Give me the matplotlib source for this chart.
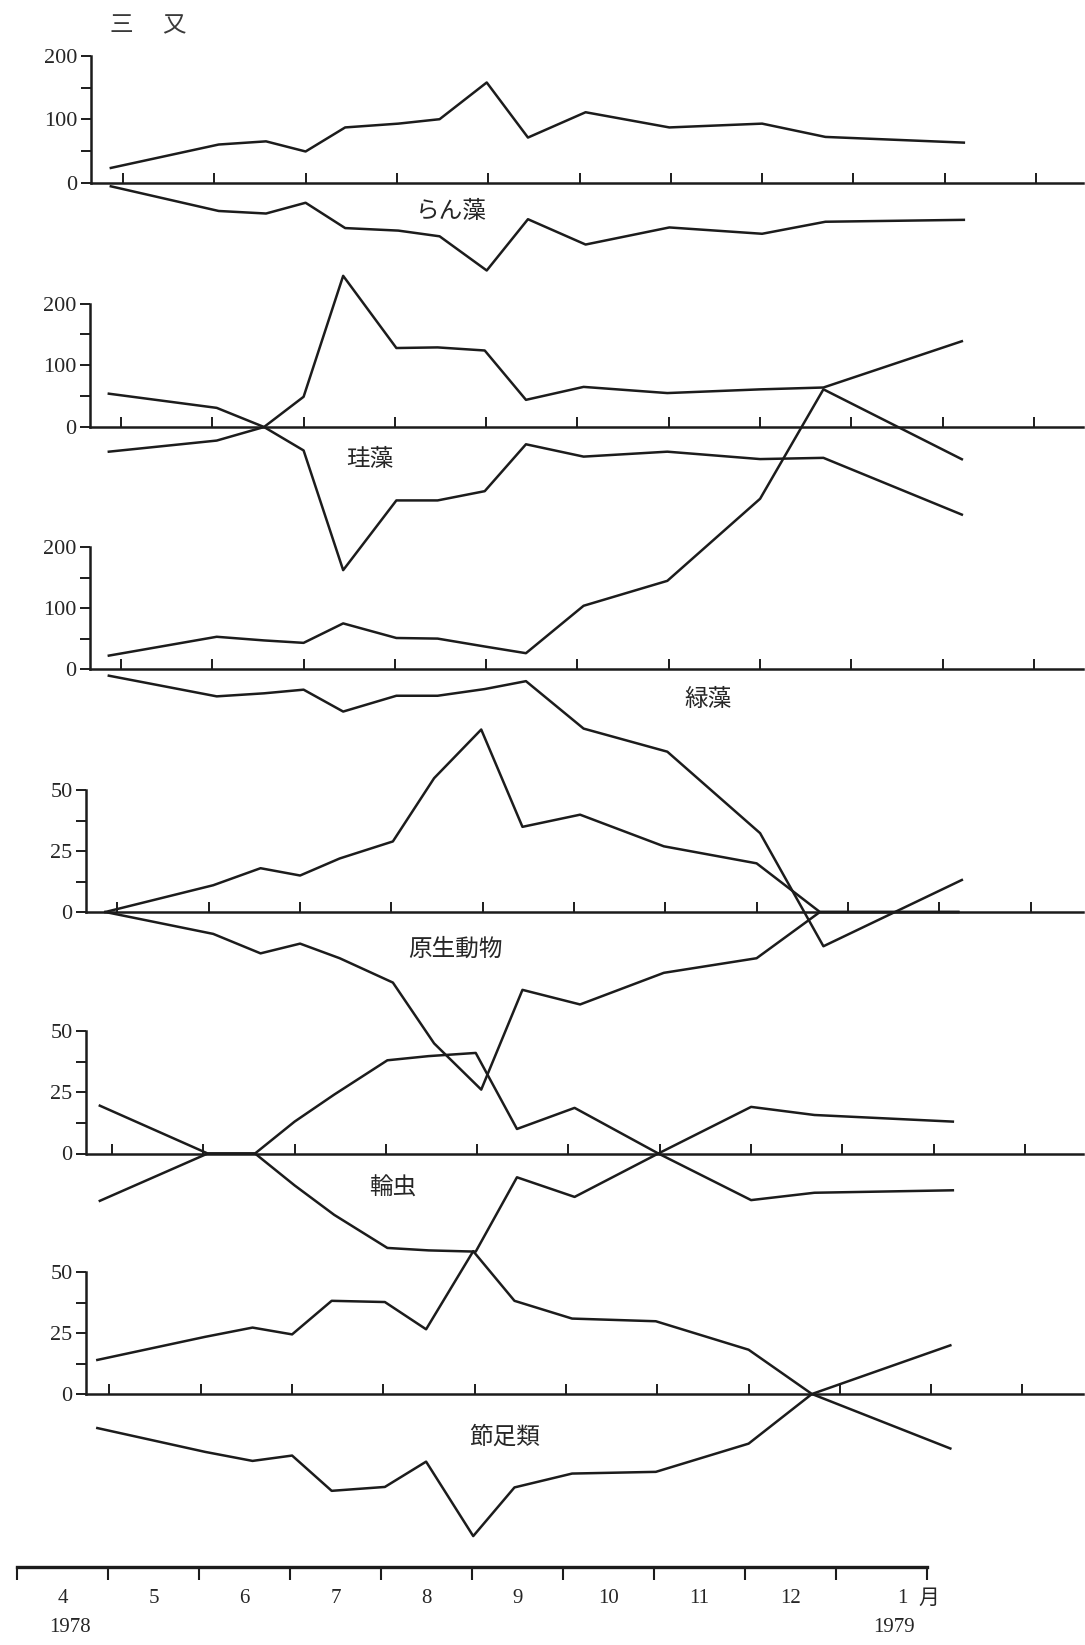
import numpy as np
import pandas as pd
import matplotlib
matplotlib.use("Agg")
import matplotlib.pyplot as plt

# Sampling dates (三叉, 1978-1979)
dates = ["1978-04-12", "1978-05-18", "1978-06-03", "1978-06-16", "1978-06-29",
         "1978-07-17", "1978-07-31", "1978-08-16", "1978-08-30", "1978-09-18",
         "1978-10-16", "1978-11-16", "1978-12-07", "1979-01-23"]

# upper line / lower line (drawn below zero) for each group
ransou_upper = [23, 60, 65, 49, 87, 93, 100, 158, 71, 111, 87, 93, 72, 63]
ransou_lower = [6, 45, 49, 32, 72, 76, 85, 139, 58, 98, 71, 81, 62, 59]

keisou_upper = [54, 31, 0, 49, 245, 128, 129, 124, 44, 65, 55, 61, 64, 139]
keisou_lower = [40, 22, 0, 38, 232, 119, 119, 104, 28, 48, 40, 52, 50, 142]

ryokusou_upper = [22, 53, 47, 43, 75, 51, 50, 37, 26, 104, 145, 280, 460, 345]
ryokusou_lower = [11, 45, 40, 34, 70, 44, 44, 33, 20, 98, 136, 270, 456, 347]

gensei_upper = [0, 11, 18, 15, 22, 29, 55, 75, 35, 40, 27, 20, 0, 0]
gensei_lower = [0, 9, 17, 13, 19, 29, 54, 73, 32, 38, 25, 19, 0, 0]

wamushi_upper = [19.5, 0, 0, 13, 24, 38, 39.7, 41, 10, 18.6, 0, 19, 15.7, 13]
wamushi_lower = [19.3, 0, 0, 13, 25, 38.5, 39.5, 40, 9.7, 17.7, 0, 19, 16, 15]

sessoku_upper = [14, 23.5, 27.3, 24.5, 38.3, 37.8, 26.6, 58.7, 38.3, 31, 29.9, 18.2, 0, 20]
sessoku_lower = [14, 23.8, 27.5, 25.3, 39.8, 38.2, 27.8, 58.4, 38.4, 32.7, 32, 20.4, 0, 22.4]

month_labels = ["4", "5", "6", "7", "8", "9", "10", "11", "12", "1"]

d = pd.to_datetime(pd.Series(dates))
t = ((d.dt.year - 1978) * 12 + d.dt.month + (d.dt.day - 1) / d.dt.days_in_month).to_numpy()

W, H = 1085, 1645
MONTH_PX = 91.3
X_RIGHT = 1083
serif = "Liberation Serif"
cjk = ["Noto Sans CJK JP", "DejaVu Sans"]
ink = "#1c1c1c"
txt = "#262626"

fig = plt.figure(figsize=(W / 100, H / 100), dpi=100)

# label, upper, lower, ymax, major ticks, minor ticks, axis x, first tick x, zero y, px per unit, label pos
panels = [
    ("らん藻", ransou_upper, ransou_lower, 200, [0, 100, 200], [50, 150], 91, 123, 182.5, 0.633, (451, 212)),
    ("珪藻", keisou_upper, keisou_lower, 200, [0, 100, 200], [50, 150], 90, 121, 427.0, 0.617, (370, 460)),
    ("緑藻", ryokusou_upper, ryokusou_lower, 200, [0, 100, 200], [50, 150], 90, 121, 669.0, 0.608, (708, 700)),
    ("原生動物", gensei_upper, gensei_lower, 50, [0, 25, 50], [12.5, 37.5], 86.5, 117.5, 912.0, 2.433, (455, 949)),
    ("輪虫", wamushi_upper, wamushi_lower, 50, [0, 25, 50], [12.5, 37.5], 86.5, 112, 1153.5, 2.453, (393, 1188)),
    ("節足類", sessoku_upper, sessoku_lower, 50, [0, 25, 50], [12.5, 37.5], 86.5, 109.5, 1394.0, 2.433, (505, 1437)),
]

for label, up, lo, ymax, major, minor, ax_x, tick0, zero_y, ppu, (lx, ly) in panels:
    ax = fig.add_axes([ax_x / W, 1 - zero_y / H, (X_RIGHT - ax_x) / W, ymax * ppu / H])
    ax.patch.set_visible(False)
    ax.set_xlim(4.5 + (ax_x - tick0) / MONTH_PX, 4.5 + (X_RIGHT - tick0) / MONTH_PX)
    ax.set_ylim(0, ymax)
    for s in ["top", "right"]:
        ax.spines[s].set_visible(False)
    for s in ["left", "bottom"]:
        ax.spines[s].set_linewidth(1.8)
        ax.spines[s].set_color(ink)
    ax.plot(t, up, color=ink, lw=1.8, clip_on=False)
    ax.plot(t, -np.array(lo), color=ink, lw=1.8, clip_on=False)
    ax.set_yticks(major)
    ax.set_yticks(minor, minor=True)
    ax.set_yticklabels([f"{v:g}" for v in major], family=serif, fontsize=16, color=txt)
    ax.set_xticks(np.arange(4.5, 15.0, 1.0))
    ax.tick_params(axis="x", which="both", direction="in", length=7, width=1.4,
                   color=ink, labelbottom=False)
    ax.tick_params(axis="y", which="both", direction="out", length=7, width=1.4,
                   color=ink, pad=3)
    fig.text(lx / W, 1 - ly / H, label, ha="center", va="center", fontsize=17,
             family=cjk, color=txt)

# site name
fig.text(121 / W, 1 - 26 / H, "三", ha="center", va="center", fontsize=17, family=cjk, color="#3a3a3a")
fig.text(174 / W, 1 - 26 / H, "又", ha="center", va="center", fontsize=17, family=cjk, color="#3a3a3a")

# time axis
axb = fig.add_axes([17 / W, 0, 910 / W, (H - 1567) / H])
axb.patch.set_visible(False)
axb.set_xlim(4, 14)
axb.set_ylim(0, 1)
for s in ["bottom", "left", "right"]:
    axb.spines[s].set_visible(False)
axb.spines["top"].set_linewidth(2.4)
axb.spines["top"].set_color(ink)
axb.xaxis.set_ticks_position("top")
axb.set_xticks(np.arange(4, 15))
axb.set_yticks([])
axb.tick_params(axis="x", direction="in", length=9, width=1.5, color=ink, labeltop=False)
tr = axb.get_xaxis_transform()
for i, lab in enumerate(month_labels):
    x = 4.5 + i
    if lab == "1":
        x += 0.23
    axb.text(x, 0.60, lab, transform=tr, ha="center", va="center", fontsize=15,
             family=serif, color=txt)
axb.text(14.02, 0.60, "月", transform=tr, ha="center", va="center", fontsize=15,
         family=cjk, color=txt)
axb.text(4.58, 0.23, "1978", transform=tr, ha="center", va="center", fontsize=15,
         family=serif, color=txt)
axb.text(13.64, 0.23, "1979", transform=tr, ha="center", va="center", fontsize=15,
         family=serif, color=txt)

fig.savefig("out.png", dpi=100, facecolor="white")
